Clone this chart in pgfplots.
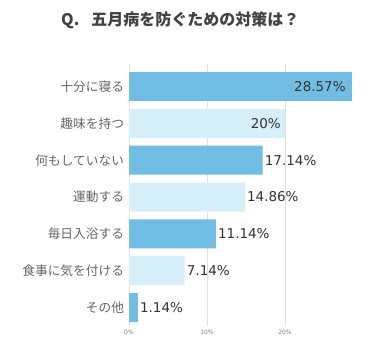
\documentclass[border=0pt]{standalone}
\usepackage{pgfplots}
\pgfplotsset{compat=1.18}
\usepackage{fontspec}
\setmainfont{DejaVu Sans}
\newfontfamily\cjk{Noto Sans CJK JP}
\definecolor{barA}{HTML}{72BDE3}
\definecolor{barB}{HTML}{D6EFF8}
\definecolor{gridc}{HTML}{E0E0E0}
\begin{document}
\begin{tikzpicture}
\path[use as bounding box, fill=white] (0bp,0bp) rectangle (385bp,-361bp);
\node[font=\cjk\bfseries\fontsize{16bp}{18bp}\selectfont, text=black!74, anchor=west, inner sep=0pt] at (61bp,-20bp) {Q.\hspace{0.75em}五月病を防ぐための対策は？};
\begin{axis}[at={(129bp,-326bp)}, anchor=south west, scale only axis,
  width=234bp, height=262bp,
  xmin=0, xmax=30, ymin=-0.5, ymax=6.61,
  xbar, bar width=29bp, bar shift=0pt,
  axis line style={draw=none}, tick style={draw=none}, major tick length=0pt,
  xtick={0,10,20}, xticklabels={0\%,10\%,20\%},
  xmajorgrids, grid style={gridc, line width=0.6bp},
  xticklabel style={font=\fontsize{6bp}{7bp}\selectfont, text=black!50, yshift=-1bp},
  ytick={0,...,6},
  yticklabels={その他,食事に気を付ける,毎日入浴する,運動する,何もしていない,趣味を持つ,十分に寝る},
  yticklabel style={font=\cjk\fontsize{12.7bp}{15bp}\selectfont, text=black!60, xshift=-1.5bp},
  point meta=explicit symbolic,
  nodes near coords,
  every node near coord/.append style={font=\fontsize{13.5bp}{16bp}\selectfont, text=black!80, inner sep=2bp},
]
\addplot[fill=barA, draw=none, every node near coord/.append style={anchor=east, xshift=-4bp}] coordinates {(28.57,6) [28.57\%]};
\addplot[fill=barB, draw=none, every node near coord/.append style={anchor=east, xshift=-2bp}] coordinates {(20,5) [20\%]};
\addplot[fill=barA, draw=none, every node near coord/.append style={anchor=west}] coordinates {(17.14,4) [17.14\%] (11.14,2) [11.14\%] (1.14,0) [1.14\%]};
\addplot[fill=barB, draw=none, every node near coord/.append style={anchor=west}] coordinates {(14.86,3) [14.86\%] (7.14,1) [7.14\%]};
\end{axis}
\end{tikzpicture}
\end{document}
